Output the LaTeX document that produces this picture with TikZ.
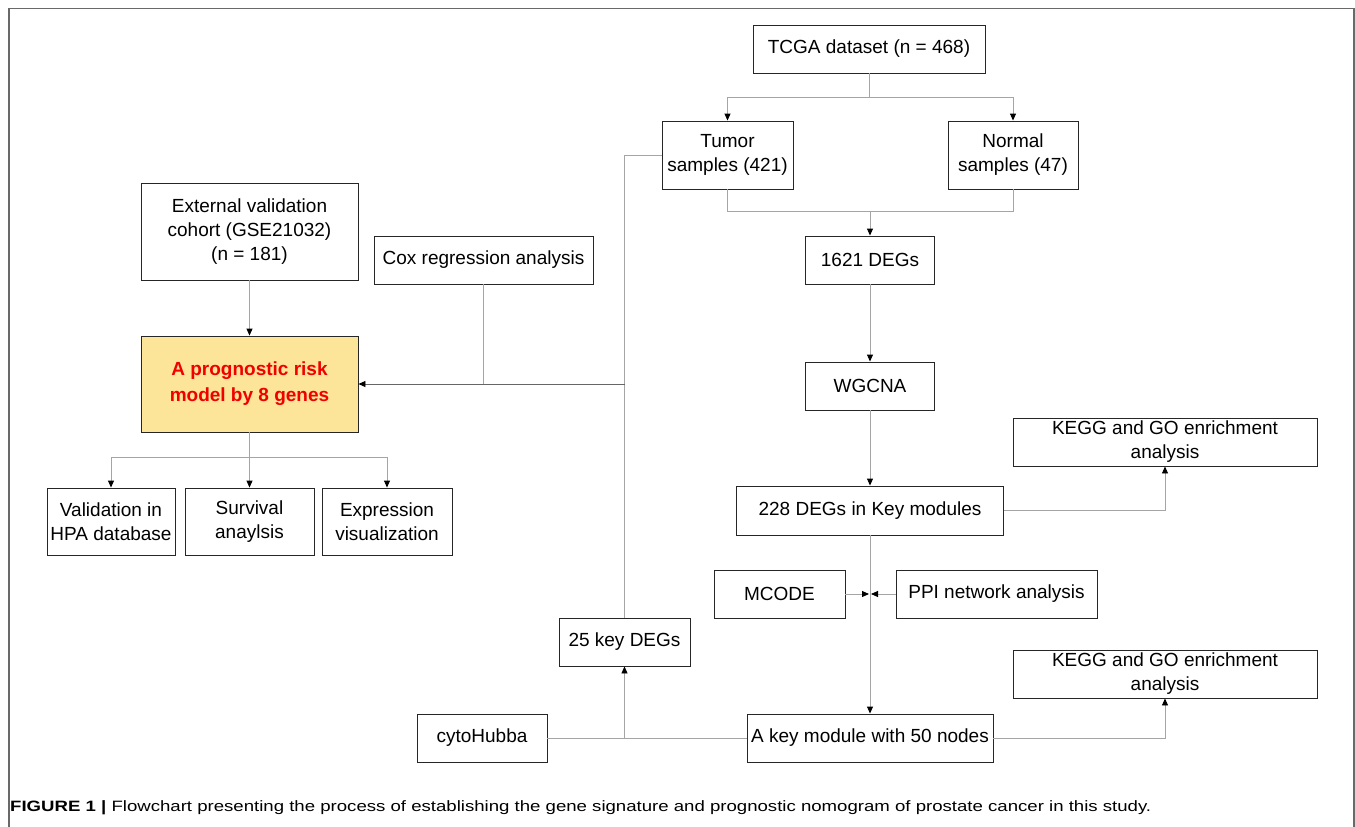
\documentclass[tikz,border=0pt]{standalone}
\usepackage{fontspec}
\setmainfont{Liberation Sans}
\usetikzlibrary{arrows.meta}
\definecolor{modelyellow}{RGB}{252,229,152}
\definecolor{linkgray}{RGB}{165,165,165}
\definecolor{framegray}{RGB}{105,105,105}
\definecolor{modelred}{RGB}{240,0,0}

\begin{document}
\begin{tikzpicture}[x=1pt, y=-1pt,
	box/.style={draw=black!85, line width=0.9pt, align=center, inner sep=0pt,
		font=\fontsize{19}{24}\selectfont},
	link/.style={draw=linkgray, line width=0.9pt},
	arr/.style={link, -{Triangle[black, length=7pt, width=6pt]}}]

	\useasboundingbox (0,0) rectangle (1355,827);
	\draw[framegray, line width=1.5pt] (9,827) -- (9,8.5) -- (1354,8.5) -- (1354,827);

	% right column
	\node[box, minimum width=232pt, minimum height=48pt] (tcga) at (869,49) {TCGA dataset (n = 468)};
	\node[box, minimum width=131pt, minimum height=68pt] (tumor) at (727.5,155) {Tumor\\samples (421)};
	\node[box, minimum width=130pt, minimum height=68pt] (normal) at (1013,155) {Normal\\samples (47)};
	\node[box, minimum width=129pt, minimum height=48pt] (deg1621) at (870,260) {1621 DEGs};
	\node[box, minimum width=129pt, minimum height=48pt] (wgcna) at (870,386) {WGCNA};
	\node[box, minimum width=304pt, minimum height=48pt] (kegg1) at (1165,442) {KEGG and GO enrichment\\analysis};
	\node[box, minimum width=267pt, minimum height=49pt] (deg228) at (870,510.5) {228 DEGs in Key modules};
	\node[box, minimum width=131pt, minimum height=48pt] (mcode) at (779.5,594) {MCODE};
	\node[box, minimum width=201pt, minimum height=48pt] (ppi) at (996.5,594) {PPI network analysis};
	\node[box, minimum width=304pt, minimum height=48pt] (kegg2) at (1165,674) {KEGG and GO enrichment\\analysis};
	\node[box, minimum width=246pt, minimum height=48pt] (module) at (870,738) {A key module with 50 nodes};
	\node[box, minimum width=131pt, minimum height=48pt] (key25) at (624.5,642) {25 key DEGs};
	\node[box, minimum width=130pt, minimum height=48pt] (cyto) at (482,738) {cytoHubba};

	% left column
	\node[box, minimum width=217pt, minimum height=97pt] (external) at (249.5,231.5) {External validation\\cohort (GSE21032)\\(n = 181)};
	\node[box, minimum width=219pt, minimum height=48pt] (cox) at (483.5,260) {Cox regression analysis};
	\node[box, fill=modelyellow, minimum width=217pt, minimum height=96pt,
		text=modelred, font=\fontsize{19}{26}\selectfont\bfseries] (model) at (249.5,384) {A prognostic risk\\model by 8 genes};
	\node[box, minimum width=128pt, minimum height=67pt] (hpa) at (111,521.5) {Validation in\\HPA database};
	\node[box, minimum width=129pt, minimum height=67pt] (surv) at (249.5,521.5) {Survival\\anaylsis};
	\node[box, minimum width=130pt, minimum height=67pt] (expr) at (387,521.5) {Expression\\visualization};

	\coordinate (split1) at (869,97);
	\coordinate (merge1) at (870,211);
	\coordinate (hub) at (870,594);
	\coordinate (join1) at (624.5,384);
	\coordinate (split2) at (249.5,457);

	% connectors
	\draw[link] (tcga) -- (split1);
	\draw[arr] (split1) -| (tumor);
	\draw[arr] (split1) -| (normal);
	\draw[link] (tumor) |- (merge1);
	\draw[link] (normal) |- (merge1);
	\draw[arr] (merge1) -- (deg1621);
	\draw[arr] (deg1621) -- (wgcna);
	\draw[arr] (wgcna) -- (deg228);
	\draw[arr] (deg228) -| (kegg1);
	\draw[arr] (deg228) -- (module);
	\draw[arr, shorten >=1pt] (mcode) -- (hub);
	\draw[arr, shorten >=1pt] (ppi) -- (hub);
	\draw[arr] (module) -| (kegg2);
	\draw[link] (cyto) -- (module);
	\draw[arr] (key25 |- cyto) -- (key25);
	\draw[link] (tumor.west) -| (key25);
	\draw[arr, draw=black!60] (join1) -- (model);
	\draw[link] (cox) -- (cox |- join1);
	\draw[arr] (external) -- (model);
	\draw[link] (model) -- (split2);
	\draw[arr] (split2) -| (hpa);
	\draw[arr] (split2) -- (surv);
	\draw[arr] (split2) -| (expr);

	\node[anchor=base west, inner sep=0pt, font=\fontsize{15}{18}\selectfont] (caption) at (10,811)
		{\scalebox{1.24}[1]{\textbf{FIGURE 1 |} Flowchart presenting the process of establishing the gene signature and prognostic nomogram of prostate cancer in this study.}};
\end{tikzpicture}
\end{document}
